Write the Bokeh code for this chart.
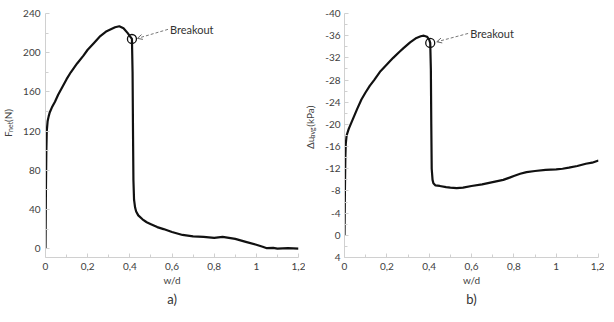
import math
from bokeh.plotting import figure
from bokeh.layouts import row
from bokeh.models import Range1d, FixedTicker, Label, Arrow, OpenHead, Title
from bokeh.embed import file_html
from bokeh.resources import INLINE

# ---------------- data ----------------
w_a = [0, 0.002, 0.004, 0.006, 0.01, 0.015, 0.02, 0.03, 0.045, 0.06, 0.08, 0.1,
       0.12, 0.15, 0.18, 0.2, 0.23, 0.26, 0.29, 0.31, 0.33, 0.35, 0.37, 0.39,
       0.40, 0.41, 0.413, 0.415, 0.417, 0.42, 0.425, 0.43, 0.44, 0.46, 0.48,
       0.5, 0.53, 0.56, 0.6, 0.65, 0.7, 0.75, 0.8, 0.84, 0.87, 0.9, 0.95, 1.0,
       1.03, 1.05, 1.08, 1.1, 1.15, 1.2]
F_net = [0, 60, 100, 120, 130, 135, 139, 144, 150, 157, 165, 173,
         180, 189, 197, 203, 210, 217, 222, 224, 226, 227, 225, 220,
         217, 214, 180, 120, 70, 50, 42, 38, 34, 30, 27,
         25, 22, 20, 17, 14, 12.5, 12, 11, 12, 11, 10, 7, 4,
         2, 0.5, 0.8, 0, 0.6, 0]

w_b = [0, 0.002, 0.004, 0.006, 0.01, 0.02, 0.04, 0.06, 0.08, 0.1, 0.12, 0.14,
       0.17, 0.2, 0.23, 0.26, 0.28, 0.31, 0.34, 0.36, 0.375, 0.39, 0.40, 0.405,
       0.408, 0.41, 0.412, 0.416, 0.42, 0.43, 0.45, 0.48, 0.5, 0.53, 0.56, 0.6,
       0.65, 0.7, 0.75, 0.78, 0.8, 0.83, 0.86, 0.9, 0.95, 1.0, 1.03, 1.06, 1.1,
       1.14, 1.17, 1.2]
du_avg = [0, -8, -14, -16.5, -18, -19.2, -21, -22.8, -24.5, -25.8, -27, -28,
          -29.6, -30.8, -32, -33.1, -33.8, -34.8, -35.6, -35.9, -36, -35.8, -35.3, -34.7,
          -30, -20, -12, -10, -9.4, -9, -8.9, -8.7, -8.6, -8.5, -8.6, -8.9,
          -9.2, -9.6, -10.0, -10.4, -10.7, -11.1, -11.4, -11.6, -11.8, -11.9, -12, -12.2, -12.5,
          -12.9, -13.1, -13.5]

breakout_w_a, breakout_F = 0.41, 214
breakout_w_b, breakout_du = 0.405, -34.7

x_ticks = [0.0, 0.2, 0.4, 0.6, 0.8, 1.0, 1.2]
x_tick_labels = ["0", "0,2", "0,4", "0,6", "0,8", "1", "1,2"]
x_minor = [0.1, 0.3, 0.5, 0.7, 0.9, 1.1]
ya_ticks = [0, 40, 80, 120, 160, 200, 240]
ya_minor = [20, 60, 100, 140, 180, 220]
yb_ticks = [4, 0, -4, -8, -12, -16, -20, -24, -28, -32, -36, -40]
yb_tick_labels = ["4", "0", "-4", "-8", "-12", "-16", "-20", "-24", "-28", "-32", "-36", "-40"]
yb_minor = [2, -2, -6, -10, -14, -18, -22, -26, -30, -34, -38]

FONT = "Lato"
TICK_COLOR = "#404040"
AX_COLOR = "#d0d0d0"
H = 306


def style(p, yt, yminor, ylabels=None):
    p.xaxis.ticker = FixedTicker(ticks=x_ticks, minor_ticks=x_minor)
    p.xaxis.major_label_overrides = {t: l for t, l in zip(x_ticks, x_tick_labels)}
    p.yaxis.ticker = FixedTicker(ticks=yt, minor_ticks=yminor)
    if ylabels:
        p.yaxis.major_label_overrides = {float(t): l for t, l in zip(yt, ylabels)}
    for ax in (p.xaxis[0], p.yaxis[0]):
        ax.axis_line_color = AX_COLOR
        ax.axis_line_width = 1
        ax.major_tick_line_color = AX_COLOR
        ax.minor_tick_line_color = AX_COLOR
        ax.major_tick_in = 4
        ax.major_tick_out = 0
        ax.minor_tick_in = 3
        ax.minor_tick_out = 0
        ax.major_label_text_font = FONT
        ax.major_label_text_font_size = "10px"
        ax.major_label_text_color = TICK_COLOR
    p.xaxis.major_label_standoff = 5
    p.xaxis.axis_label = "w/d"
    p.xaxis.axis_label_text_font = FONT
    p.xaxis.axis_label_text_font_size = "10px"
    p.xaxis.axis_label_text_font_style = "normal"
    p.xaxis.axis_label_text_color = TICK_COLOR
    p.xaxis.axis_label_standoff = 1
    p.xgrid.visible = False
    p.ygrid.visible = False
    p.outline_line_color = None
    p.background_fill_color = "white"
    p.border_fill_color = "white"


def lbl(p, x, y, text, size="10px", angle=0.0, align="left", baseline="middle", color=TICK_COLOR):
    p.add_layout(Label(x=x, y=y, text=text, angle=angle, text_font=FONT,
                       text_font_size=size, text_color=color, text_align=align,
                       text_baseline=baseline))


def label_fig(width):
    f = figure(width=width, height=H, x_range=Range1d(0, width), y_range=Range1d(0, H),
               min_border=0, toolbar_location=None, output_backend="svg",
               x_axis_location=None, y_axis_location=None)
    f.xgrid.visible = False
    f.ygrid.visible = False
    f.outline_line_color = None
    f.border_fill_color = "white"
    return f


def panel_title(p, text):
    p.add_layout(Title(text=text, align="center", text_font=FONT, text_font_size="13px",
                       text_font_style="normal", text_color="#333333", standoff=0), "below")


# ---------------- y-axis label a ----------------
la = label_fig(20)
lbl(la, 7, H - 155, "F", angle=math.pi / 2)
lbl(la, 9.5, H - 148.5, "net", size="7px", angle=math.pi / 2)
lbl(la, 7, H - 136, "(N)", angle=math.pi / 2)

# ---------------- plot a ----------------
pa = figure(width=285, height=H, min_border_left=24, min_border_right=7,
            min_border_top=13, output_backend="svg",
            toolbar_location=None, x_range=Range1d(0, 1.2), y_range=Range1d(-9, 240))
style(pa, ya_ticks, ya_minor)
pa.line(w_a, F_net, line_color="#111111", line_width=2.2)
pa.scatter([breakout_w_a], [breakout_F], marker="circle", size=9, fill_color=None,
           line_color="#111111", line_width=1.3)
pa.add_layout(Arrow(end=OpenHead(size=5, line_color="#666666", line_width=1),
                    x_start=0.581, y_start=223.8, x_end=0.436, y_end=214.6,
                    line_color="#777777", line_width=1, line_dash="3 2"))
lbl(pa, 0.59, 223.3, "Breakout", size="11px", color="#333333")
panel_title(pa, "a)")

# ---------------- y-axis label b ----------------
lb = label_fig(13)
lbl(lb, 4, H - 170, "\u0394u", angle=math.pi / 2)
lbl(lb, 6.5, H - 156, "avg", size="7px", angle=math.pi / 2)
lbl(lb, 4, H - 142, "(kPa)", angle=math.pi / 2)

# ---------------- plot b ----------------
pb = figure(width=286, height=H, min_border_left=26, min_border_right=6,
            min_border_top=13, output_backend="svg",
            toolbar_location=None, x_range=Range1d(0, 1.2), y_range=Range1d(4, -40))
style(pb, yb_ticks, yb_minor, yb_tick_labels)
pb.yaxis.major_label_standoff = 4
pb.line(w_b, du_avg, line_color="#111111", line_width=2.2)
pb.scatter([breakout_w_b], [breakout_du], marker="circle", size=9, fill_color=None,
           line_color="#111111", line_width=1.3)
pb.add_layout(Arrow(end=OpenHead(size=5, line_color="#666666", line_width=1),
                    x_start=0.584, y_start=-36.4, x_end=0.436, y_end=-34.9,
                    line_color="#777777", line_width=1, line_dash="3 2"))
lbl(pb, 0.594, -36.4, "Breakout", size="11px", color="#333333")
panel_title(pb, "b)")

layout = row(la, pa, lb, pb)
open("out.html", "w").write(file_html(layout, INLINE))
